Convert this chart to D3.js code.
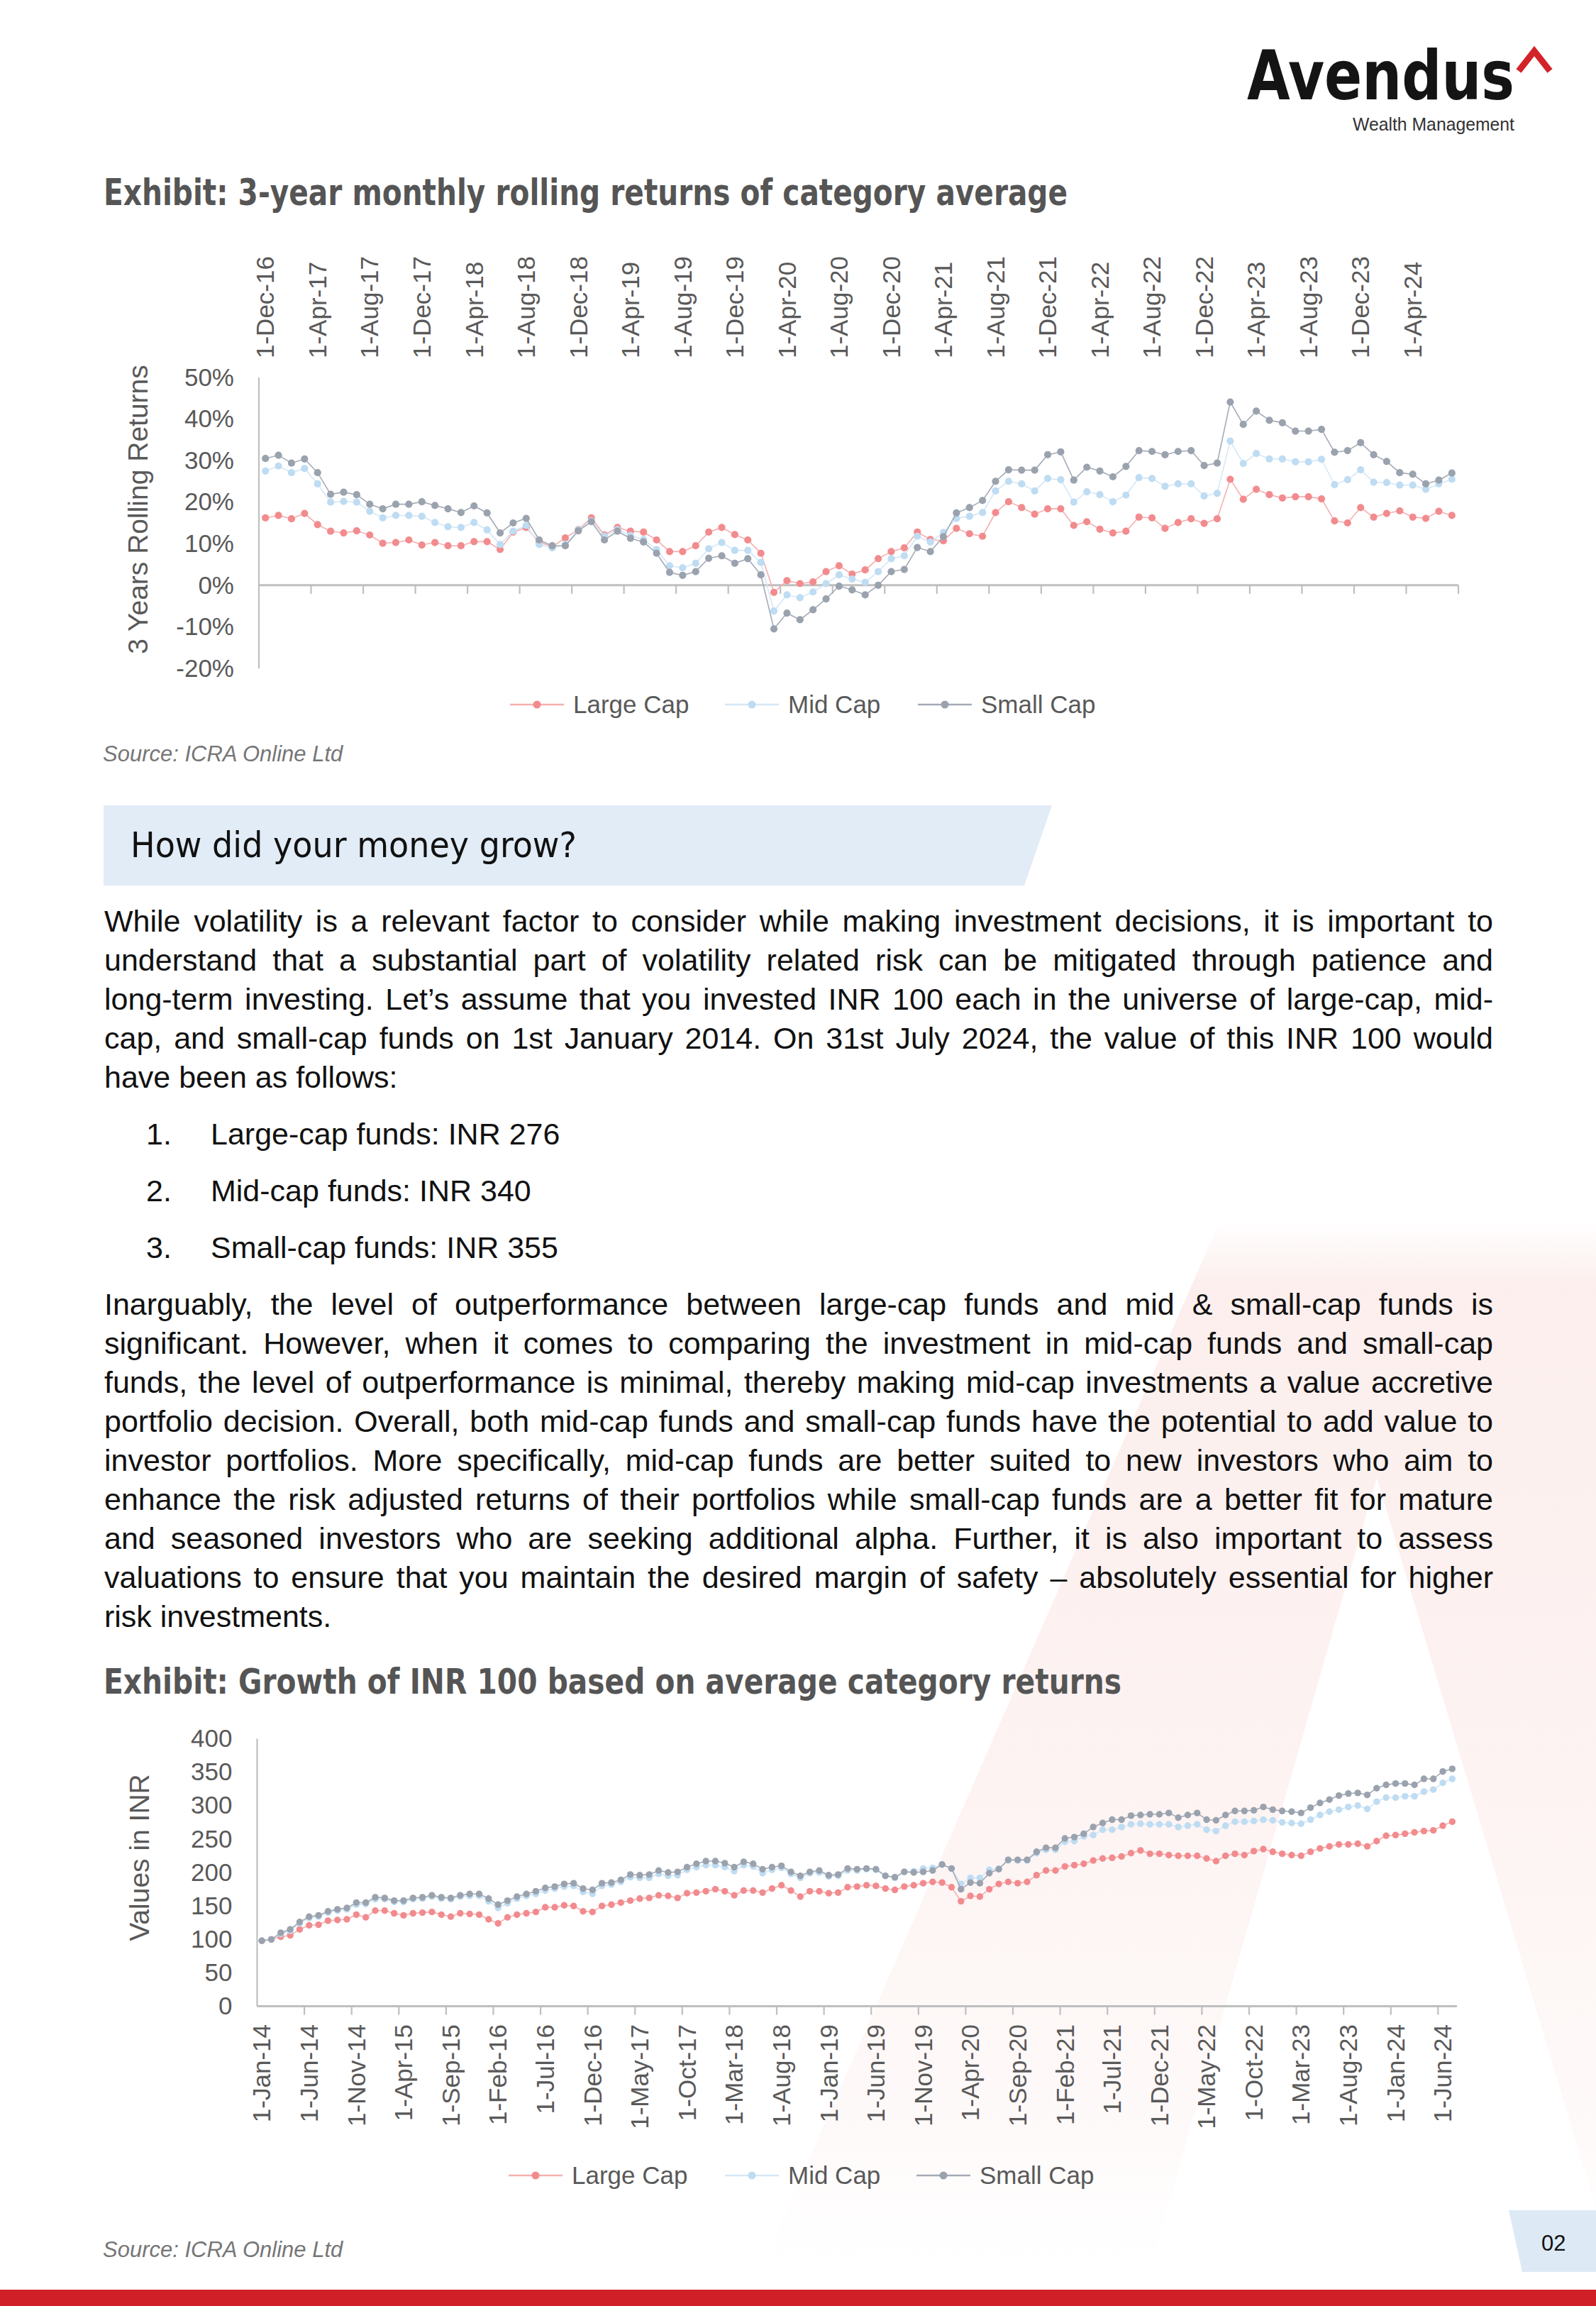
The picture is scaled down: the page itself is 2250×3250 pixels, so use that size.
<!DOCTYPE html>
<html><head><meta charset="utf-8">
<script src="https://cdn.jsdelivr.net/npm/d3@7"></script>
<style>
html,body{margin:0;padding:0;background:#fff;}
svg{display:block;}
</style></head><body>
<svg id="page" width="2250" height="3250"></svg>
<script>
// ---------------- DATA ----------------
const seriesNames = ["Large Cap", "Mid Cap", "Small Cap"];

// Chart 1: 3-year monthly rolling returns (%), Dec-16 .. Jul-24
const rollingTickLabels = ["1-Dec-16","1-Apr-17","1-Aug-17","1-Dec-17","1-Apr-18","1-Aug-18","1-Dec-18","1-Apr-19","1-Aug-19","1-Dec-19","1-Apr-20","1-Aug-20","1-Dec-20","1-Apr-21","1-Aug-21","1-Dec-21","1-Apr-22","1-Aug-22","1-Dec-22","1-Apr-23","1-Aug-23","1-Dec-23","1-Apr-24"];
const rollingYTicks = [50, 40, 30, 20, 10, 0, -10, -20];
const rollingLarge = [16.2,16.8,16.0,17.3,14.6,13.0,12.6,13.1,12.1,10.1,10.3,10.9,9.7,10.3,9.5,9.5,10.5,10.5,8.6,12.8,13.9,10.4,9.3,11.4,13.4,16.2,12.1,13.9,13.0,12.8,10.9,8.1,8.1,9.5,12.8,13.9,12.2,10.9,7.7,-1.7,1.1,0.4,0.8,3.3,4.7,2.7,3.7,6.4,8.1,9.0,12.8,11.0,10.7,13.7,12.4,11.8,17.5,20.1,18.7,17.1,18.4,18.4,14.4,15.3,13.5,12.6,13.0,16.4,16.2,13.7,15.1,16.0,14.9,16.0,25.5,20.7,23.1,21.8,21.0,21.3,21.3,20.8,15.5,15.0,18.7,16.4,17.3,17.9,16.4,16.1,17.8,16.8];
const rollingMid = [27.5,28.7,27.1,28.1,24.4,20.0,20.2,20.0,17.8,16.2,16.8,16.8,16.6,15.1,14.1,13.9,15.1,13.3,9.8,13.0,14.4,9.8,9.0,9.8,13.3,15.5,11.8,13.4,12.0,11.0,8.6,4.7,4.2,5.3,8.8,10.3,8.4,8.4,5.5,-6.2,-2.3,-3.0,-1.6,0.4,2.5,1.5,0.7,3.3,6.4,7.1,11.8,10.4,12.7,16.1,16.6,17.5,22.7,25.0,24.4,22.7,25.7,25.4,20.0,22.5,21.8,20.1,21.7,25.9,25.7,23.8,24.4,24.4,21.5,22.1,34.7,29.3,31.7,30.4,30.4,29.7,29.7,30.3,24.2,25.4,27.8,24.8,24.7,24.1,24.1,23.1,24.4,25.5];
const rollingSmall = [30.5,31.3,29.4,30.4,27.1,21.9,22.4,21.8,19.5,18.4,19.5,19.5,20.1,19.2,18.4,17.5,19.1,17.4,12.6,15.0,16.1,10.9,9.5,9.5,13.1,15.3,10.9,13.0,11.3,10.4,7.7,3.1,2.4,3.3,6.5,7.1,5.3,6.4,2.5,-10.5,-6.7,-8.3,-5.9,-3.3,-0.2,-1.1,-2.3,0.0,3.3,3.8,9.1,8.1,11.7,17.4,18.7,20.4,25.0,27.8,27.7,27.7,31.4,32.1,25.3,28.4,27.5,26.1,28.6,32.4,32.2,31.4,32.2,32.4,28.8,29.4,44.1,38.7,41.9,39.7,39.1,37.1,37.1,37.5,32.0,32.4,34.3,31.4,29.8,27.1,26.7,24.4,25.3,27.0];

// Chart 2: growth of INR 100, Jan-14 .. Jul-24
const growthTickLabels = ["1-Jan-14","1-Jun-14","1-Nov-14","1-Apr-15","1-Sep-15","1-Feb-16","1-Jul-16","1-Dec-16","1-May-17","1-Oct-17","1-Mar-18","1-Aug-18","1-Jan-19","1-Jun-19","1-Nov-19","1-Apr-20","1-Sep-20","1-Feb-21","1-Jul-21","1-Dec-21","1-May-22","1-Oct-22","1-Mar-23","1-Aug-23","1-Jan-24","1-Jun-24"];
const growthYTicks = [0, 50, 100, 150, 200, 250, 300, 350, 400];
const growthLarge = [98,100,104,106,115,121,122,128,129,130,137,133,143,143,139,136,139,140,141,137,134,139,138,137,130,124,133,137,139,141,148,148,151,150,142,141,150,152,155,158,161,162,166,165,162,169,170,172,175,172,166,173,173,170,176,181,173,164,172,172,169,170,178,179,181,180,176,174,179,181,184,186,185,178,157,165,164,175,183,186,184,186,196,203,203,209,211,213,218,221,222,224,229,233,228,228,226,225,225,225,221,217,225,228,226,232,235,231,228,226,225,231,236,239,242,242,243,239,247,255,256,258,260,262,263,270,276];
const growthMid = [98,100,108,113,124,132,134,140,143,145,152,153,160,160,156,156,160,161,164,161,160,164,165,165,157,147,154,161,165,168,173,176,179,180,171,168,180,182,186,193,192,192,198,195,196,204,208,211,211,208,202,211,209,199,204,207,198,192,199,200,194,195,203,203,205,204,195,192,201,202,206,207,212,206,183,192,192,204,206,218,218,218,229,234,234,246,247,254,256,264,264,268,272,273,272,272,272,268,270,272,264,262,270,276,276,277,279,278,275,274,273,279,286,291,294,298,300,295,306,312,312,314,314,321,324,334,340];
const growthSmall = [98,100,110,115,126,134,136,142,145,147,155,155,163,162,158,158,162,163,166,163,162,166,168,168,161,152,158,164,168,172,177,179,183,184,176,174,184,185,189,197,196,197,203,200,201,208,213,217,217,214,208,216,213,205,208,210,201,195,201,203,196,197,206,205,206,205,195,193,201,200,201,203,212,206,175,185,184,199,205,219,219,219,231,237,237,251,253,258,268,274,279,279,285,286,287,287,289,282,286,289,279,278,286,292,292,293,298,294,292,291,289,297,304,309,315,318,319,316,326,331,333,333,331,340,340,351,355];

const para1 = [
 "While volatility is a relevant factor to consider while making investment decisions, it is important to",
 "understand that a substantial part of volatility related risk can be mitigated through patience and",
 "long-term investing. Let\u2019s assume that you invested INR 100 each in the universe of large-cap, mid-",
 "cap, and small-cap funds on 1st January 2014. On 31st July 2024, the value of this INR 100 would",
 "have been as follows:"
];
const listItems = [["1.", "Large-cap funds: INR 276"], ["2.", "Mid-cap funds: INR 340"], ["3.", "Small-cap funds: INR 355"]];
const para2 = [
 "Inarguably, the level of outperformance between large-cap funds and mid & small-cap funds is",
 "significant. However, when it comes to comparing the investment in mid-cap funds and small-cap",
 "funds, the level of outperformance is minimal, thereby making mid-cap investments a value accretive",
 "portfolio decision. Overall, both mid-cap funds and small-cap funds have the potential to add value to",
 "investor portfolios. More specifically, mid-cap funds are better suited to new investors who aim to",
 "enhance the risk adjusted returns of their portfolios while small-cap funds are a better fit for mature",
 "and seasoned investors who are seeking additional alpha. Further, it is also important to assess",
 "valuations to ensure that you maintain the desired margin of safety \u2013 absolutely essential for higher",
 "risk investments."
];

// ---------------- STYLE ----------------
const markerColors = ["#F28B8E", "#BEDCF2", "#9AA2AE"];
const lineColors = ["#F4AFB0", "#D4E7F6", "#A4ABB6"];
const axisColor = "#BFBFBF";
const labelColor = "#595959";
const chartFont = "'Liberation Sans', Arial, sans-serif";
const titleFont = "'DejaVu Sans Condensed', 'DejaVu Sans', sans-serif";

const svg = d3.select("#page");
const defs = svg.append("defs");

// watermark
const grad = defs.append("linearGradient").attr("id", "wm").attr("x1", 0).attr("y1", 0).attr("x2", 0).attr("y2", 1);
grad.append("stop").attr("offset", 0).attr("stop-color", "#F3C4BE").attr("stop-opacity", 0.0);
grad.append("stop").attr("offset", 0.06).attr("stop-color", "#F3C4BE").attr("stop-opacity", 0.28);
grad.append("stop").attr("offset", 0.5).attr("stop-color", "#F5CCC7").attr("stop-opacity", 0.24);
grad.append("stop").attr("offset", 0.85).attr("stop-color", "#F8DAD6").attr("stop-opacity", 0.14);
grad.append("stop").attr("offset", 1).attr("stop-color", "#FFFFFF").attr("stop-opacity", 0);
svg.append("polygon")
  .attr("points", [[1720,1720],[2250,1720],[2250,3113],[1941,2083],[1606,3250],[1050,3250]].map(p => p.join(",")).join(" "))
  .attr("fill", "url(#wm)");

// header logo
svg.append("text").attr("x", 1758).attr("y", 140).attr("textLength", 377).attr("lengthAdjust", "spacingAndGlyphs")
  .style("font-family", "'DejaVu Sans', sans-serif").style("font-weight", "bold").style("font-size", "96px").attr("fill", "#141414").text("Avendus");
svg.append("path").attr("d", "M2141,100 L2163,72 L2185,100").attr("fill", "none").attr("stroke", "#D2232A").attr("stroke-width", 9).attr("stroke-linejoin", "miter");
svg.append("text").attr("x", 1907).attr("y", 184).attr("textLength", 228).attr("lengthAdjust", "spacingAndGlyphs")
  .style("font-family", chartFont).style("font-size", "25px").attr("fill", "#333").text("Wealth Management");

function title(txt, x, y, len, size, color, weight) {
  svg.append("text").attr("x", x).attr("y", y).attr("textLength", len).attr("lengthAdjust", "spacingAndGlyphs")
    .style("font-family", titleFont).style("font-size", size + "px").style("font-weight", weight).attr("fill", color).text(txt);
}
title("Exhibit: 3-year monthly rolling returns of category average", 146, 289, 1359, 51, "#555555", "bold");
title("Exhibit: Growth of INR 100 based on average category returns", 146, 2387, 1435, 50, "#555555", "bold");

// ---------------- generic chart ----------------
function drawChart(cfg) {
  const g = svg.append("g");
  const n = cfg.series[0].length;
  const x = d3.scaleBand().domain(d3.range(n)).range([cfg.x0, cfg.x1]).paddingInner(0).paddingOuter(0);
  const cx = i => x(i) + x.bandwidth() / 2;
  const y = d3.scaleLinear().domain(cfg.yDomain).range([cfg.yBottom, cfg.yTop]);

  g.append("line").attr("x1", cfg.x0).attr("x2", cfg.x0).attr("y1", y(cfg.yDomain[0])).attr("y2", y(cfg.yDomain[1]))
    .attr("stroke", axisColor).attr("stroke-width", 2.2);
  const yAxis = d3.axisLeft(y).tickValues(cfg.yTicks).tickSize(0).tickPadding(0).tickFormat(cfg.yFormat);
  const ya = g.append("g").attr("transform", `translate(${cfg.yLabelX},0)`).call(yAxis);
  ya.select(".domain").remove();
  ya.selectAll("text").style("font-family", chartFont).style("font-size", "35px").attr("fill", labelColor);

  g.append("text").attr("transform", `translate(${cfg.yTitleX},${cfg.yTitleY}) rotate(-90)`).attr("text-anchor", "middle")
    .attr("dy", "0.35em").style("font-family", chartFont).style("font-size", "39px").attr("fill", labelColor).text(cfg.yTitle);

  const y0 = y(0);
  g.append("line").attr("x1", cfg.x0).attr("x2", cfg.x1).attr("y1", y0).attr("y2", y0).attr("stroke", axisColor).attr("stroke-width", 3);
  const tickIdx = d3.range(0, n + 1, cfg.every).filter(k => k > 0);
  g.selectAll(".xt").data(tickIdx).join("line")
    .attr("x1", k => cfg.x0 + k * x.step()).attr("x2", k => cfg.x0 + k * x.step())
    .attr("y1", y0).attr("y2", y0 + 12).attr("stroke", axisColor).attr("stroke-width", 2.2);

  g.selectAll(".xl").data(cfg.tickLabels).join("text")
    .attr("transform", (d, k) => `translate(${cx(k * cfg.every)},${cfg.labelY}) rotate(-90)`)
    .attr("text-anchor", cfg.labelAnchor).attr("dy", "0.35em")
    .style("font-family", chartFont).style("font-size", "35px").attr("fill", labelColor).text(d => d);

  const line = d3.line().x((d, i) => cx(i)).y(d => y(d));
  cfg.series.forEach((s, si) => {
    g.append("path").datum(s).attr("d", line).attr("fill", "none").attr("stroke", lineColors[si]).attr("stroke-width", 1.6);
    g.selectAll(".m" + si).data(s).join("circle").attr("cx", (d, i) => cx(i)).attr("cy", d => y(d))
      .attr("r", cfg.r).attr("fill", markerColors[si]);
  });

  cfg.legendX.forEach((lx, si) => {
    g.append("line").attr("x1", lx - 38).attr("x2", lx + 38).attr("y1", cfg.legendY).attr("y2", cfg.legendY)
      .attr("stroke", lineColors[si]).attr("stroke-width", 2.5);
    g.append("circle").attr("cx", lx).attr("cy", cfg.legendY).attr("r", 5.5).attr("fill", markerColors[si]);
    g.append("text").attr("x", lx + 51).attr("y", cfg.legendY).attr("dy", "0.35em")
      .style("font-family", chartFont).style("font-size", "35px").attr("fill", labelColor).text(seriesNames[si]);
  });

  svg.append("text").attr("x", 145).attr("y", cfg.sourceY).style("font-family", chartFont).style("font-style", "italic")
    .style("font-size", "31px").attr("fill", "#767676").text("Source: ICRA Online Ltd");
}

drawChart({
  series: [rollingLarge, rollingMid, rollingSmall],
  x0: 365, x1: 2056, yTop: 532, yBottom: 942, yDomain: [-20, 50],
  yTicks: rollingYTicks, yFormat: d => d + "%", yLabelX: 330,
  yTitle: "3 Years Rolling Returns", yTitleX: 194, yTitleY: 718,
  every: 4, tickLabels: rollingTickLabels, labelY: 505, labelAnchor: "start",
  r: 5.1, legendX: [757, 1060, 1332], legendY: 993, sourceY: 1073
});

drawChart({
  series: [growthLarge, growthMid, growthSmall],
  x0: 362.5, x1: 2054, yTop: 2450.5, yBottom: 2827.6, yDomain: [0, 400],
  yTicks: growthYTicks, yFormat: d => d, yLabelX: 327.5,
  yTitle: "Values in INR", yTitleX: 196, yTitleY: 2618,
  every: 5, tickLabels: growthTickLabels, labelY: 2853, labelAnchor: "end",
  r: 4.7, legendX: [755, 1060, 1330], legendY: 3066, sourceY: 3181
});

// ---------------- heading band ----------------
svg.insert("polygon", "text").attr("points", "146,1135 1483,1135 1444,1248 146,1248").attr("fill", "#E1ECF7");
title("How did your money grow?", 184, 1208, 629, 50, "#111111", "normal");

// ---------------- body text ----------------
const bodyFont = "'Liberation Sans', Arial, sans-serif";
const textG = svg.append("g").style("font-family", bodyFont).style("font-size", "43px").attr("fill", "#111");
function writeLines(lines, y0, lh) {
  lines.forEach((ln, i) => {
    const t = textG.append("text").attr("x", 147).attr("y", y0 + i * lh).text(ln);
    if (i < lines.length - 1) {
      const nat = t.node().getComputedTextLength();
      const sp = (ln.match(/ /g) || []).length;
      if (sp > 0) t.style("word-spacing", ((1958 - nat) / sp) + "px");
    }
  });
}
writeLines(para1, 1313, 55);
listItems.forEach((it, i) => {
  textG.append("text").attr("x", 206).attr("y", 1613 + i * 80).text(it[0]);
  textG.append("text").attr("x", 297).attr("y", 1613 + i * 80).text(it[1]);
});
writeLines(para2, 1853, 55);

// ---------------- footer ----------------
svg.append("polygon").attr("points", "2127,3115 2250,3115 2250,3202 2146,3202").attr("fill", "#DDEAF6");
svg.append("text").attr("x", 2173).attr("y", 3172).style("font-family", bodyFont).style("font-size", "31px").attr("fill", "#111").text("02");
svg.append("rect").attr("x", 0).attr("y", 3227).attr("width", 2250).attr("height", 23).attr("fill", "#D11F27");
</script>
</body></html>
